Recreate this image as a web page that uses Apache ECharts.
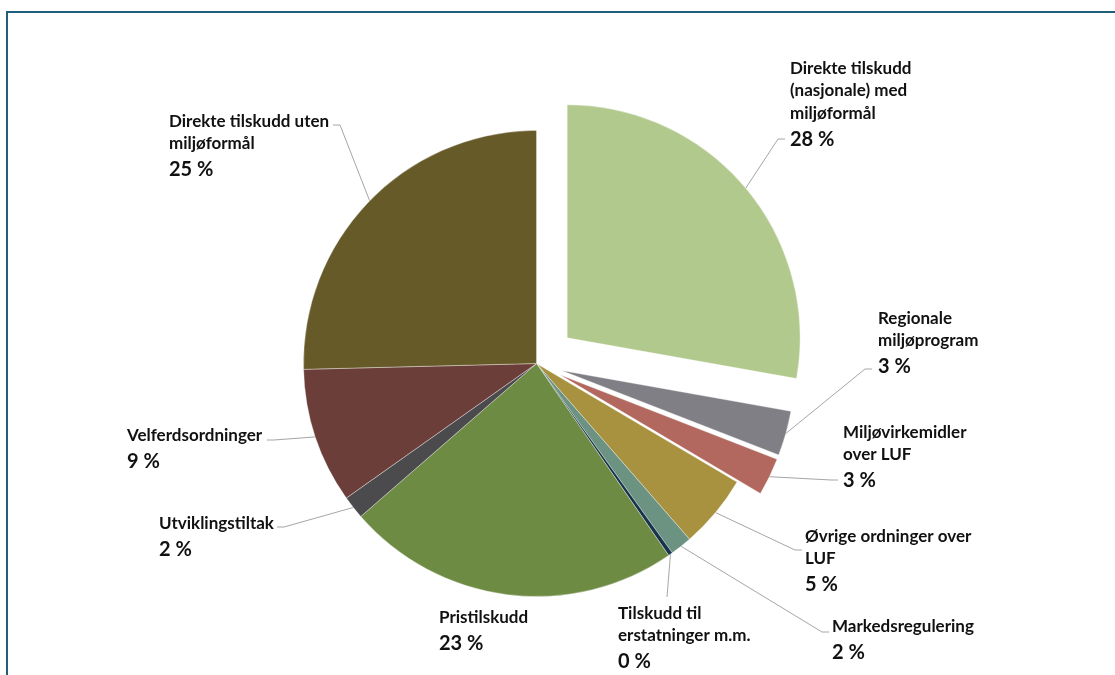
<!DOCTYPE html>
<html>
<head>
<meta charset="utf-8">
<script src="https://cdn.jsdelivr.net/npm/echarts@6/dist/echarts.min.js"></script>
<style>
html,body{margin:0;padding:0;background:#ffffff;}
#c{width:1115px;height:675px;}
</style>
</head>
<body>
<div id="c"></div>
<script>
// ---- data ----
const categories = [
  'Direkte tilskudd (nasjonale) med miljøformål',
  'Regionale miljøprogram',
  'Miljøvirkemidler over LUF',
  'Øvrige ordninger over LUF',
  'Markedsregulering',
  'Tilskudd til erstatninger m.m.',
  'Pristilskudd',
  'Utviklingstiltak',
  'Velferdsordninger',
  'Direkte tilskudd uten miljøformål'
];
const values = [27.8, 3.1, 2.6, 5.1, 1.5, 0.3, 23.2, 1.6, 9.4, 25.4];
const labelLines = [
  ['Direkte tilskudd', '(nasjonale) med', 'miljøformål'],
  ['Regionale', 'miljøprogram'],
  ['Miljøvirkemidler', 'over LUF'],
  ['Øvrige ordninger over', 'LUF'],
  ['Markedsregulering'],
  ['Tilskudd til', 'erstatninger m.m.'],
  ['Pristilskudd'],
  ['Utviklingstiltak'],
  ['Velferdsordninger'],
  ['Direkte tilskudd uten', 'miljøformål']
];

// ---- styles / layout (kept apart from the data) ----
const colors = ['#b2c98d', '#807f85', '#b2685e', '#a8923f', '#6c9282',
                '#17344a', '#6d8b43', '#4b4b4d', '#6c3e39', '#655a28'];
const explodeOffset = [40, 26, 26, 0, 0, 0, 0, 0, 0, 0];
const CX = 536.5, CY = 363.5, R = 233;
// label block top-left, and end of leader line (ex, ey), elbow direction (dir)
const labelPlace = [
  {x: 790, y: 57,  ex: 785, ey: 139, dir: -1},
  {x: 878, y: 307, ex: 872, ey: 369, dir: -1},
  {x: 843, y: 421, ex: 838, ey: 480, dir: -1},
  {x: 805, y: 525, ex: 802, ey: 550, dir: -1},
  {x: 832, y: 615, ex: 829, ey: 632, dir: -1},
  {x: 618, y: 602, ex: 667, ey: 597, dir: 0},
  {x: 439, y: 606, ex: null, ey: null, dir: 0},
  {x: 159, y: 512, ex: 277, ey: 527, dir: 1},
  {x: 127, y: 424, ex: 267, ey: 440, dir: 1},
  {x: 169, y: 110, ex: 333, ey: 125, dir: 1}
];

const total = values.reduce((a, b) => a + b, 0);
const midAngles = [];
let cum = 0;
values.forEach(v => { midAngles.push((cum + v / 2) / total * 2 * Math.PI); cum += v; });

// groups: main pie + each exploded slice in its own shifted pie
const groups = [{offset: 0, items: []}];
values.forEach((v, i) => {
  if (explodeOffset[i] > 0) groups.push({offset: explodeOffset[i], items: [i], angle: midAngles[i]});
  else groups[0].items.push(i);
});

function fmt(params) {
  const i = params.dataIndex;
  const lines = labelLines[i].map(t => '{n|' + t + '}');
  lines.push('{p|' + Math.round(params.percent) + ' %}');
  return lines.join('\n');
}

const series = groups.map(g => {
  const ang = g.angle || 0;
  const cx = CX + g.offset * Math.sin(ang);
  const cy = CY - g.offset * Math.cos(ang);
  const vis = new Set(g.items);
  return {
    type: 'pie',
    startAngle: 90,
    clockwise: true,
    center: [cx, cy],
    radius: [0, R],
    silent: true,
    avoidLabelOverlap: false,
    emphasis: {disabled: true},
    animation: false,
    label: {
      show: true,
      position: 'outside',
      formatter: fmt,
      color: '#000000',
      fontFamily: 'Lato',
      rich: {
        n: {fontFamily: 'Lato', fontWeight: 'bold', fontSize: 17, lineHeight: 22.5, color: '#111111'},
        p: {fontFamily: 'Lato', fontWeight: 'bold', fontSize: 20, lineHeight: 30, color: '#111111'}
      }
    },
    labelLine: {show: true, length: 10, length2: 10, lineStyle: {color: '#a6a6a6', width: 1}},
    labelLayout: function (params) {
      const i = params.dataIndex;
      const p = labelPlace[i];
      const out = {x: p.x, y: p.y, align: 'left', verticalAlign: 'top'};
      if (p.ex !== null) {
        const a = midAngles[i];
        const start = [cx + R * Math.sin(a), cy - R * Math.cos(a)];
        const end = [p.ex, p.ey];
        const elbow = p.dir === 0 ? end : [p.ex + p.dir * 7, p.ey];
        out.labelLinePoints = [start, elbow, end];
      }
      return out;
    },
    data: categories.map((name, i) => {
      const on = vis.has(i);
      return {
        name: name,
        value: values[i],
        itemStyle: on
          ? {color: colors[i], borderColor: 'rgba(255,255,255,0.6)', borderWidth: 0.6}
          : {color: 'rgba(0,0,0,0)', borderWidth: 0},
        label: {show: on},
        labelLine: {show: on && labelPlace[i].ex !== null}
      };
    })
  };
});

const chart = echarts.init(document.getElementById('c'), null, {renderer: 'canvas'});
chart.setOption({
  backgroundColor: '#ffffff',
  animation: false,
  graphic: [{
    type: 'polyline',
    shape: {points: [[7, 680], [7, 12], [1120, 12]]},
    style: {stroke: '#1f5f7c', lineWidth: 2, fill: null},
    silent: true,
    z: 10
  }],
  series: series
});
</script>
</body>
</html>
